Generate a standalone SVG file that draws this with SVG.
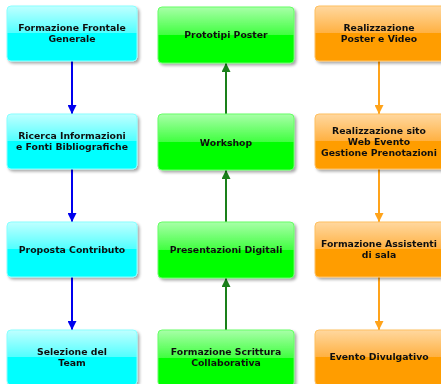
<svg xmlns="http://www.w3.org/2000/svg" width="441" height="384" viewBox="0 0 441 384">
  <defs>
    <linearGradient id="gCyan" x1="0" y1="0" x2="0" y2="1">
      <stop offset="0" stop-color="#c0ffff"/>
      <stop offset="0.5" stop-color="#50ffff"/>
      <stop offset="0.5" stop-color="#00ffff"/>
      <stop offset="1" stop-color="#00ffff"/>
    </linearGradient>
    <linearGradient id="gGreen" x1="0" y1="0" x2="0" y2="1">
      <stop offset="0" stop-color="#a8ffa8"/>
      <stop offset="0.5" stop-color="#40ff40"/>
      <stop offset="0.5" stop-color="#00ff00"/>
      <stop offset="1" stop-color="#00ff00"/>
    </linearGradient>
    <linearGradient id="gOrange" x1="0" y1="0" x2="0" y2="1">
      <stop offset="0" stop-color="#ffd8a0"/>
      <stop offset="0.5" stop-color="#ffb040"/>
      <stop offset="0.5" stop-color="#ff9d00"/>
      <stop offset="1" stop-color="#ff9d00"/>
    </linearGradient>
    <filter id="shadow" x="-10%" y="-10%" width="125%" height="130%">
      <feGaussianBlur in="SourceAlpha" stdDeviation="1.5"/>
      <feOffset dx="2" dy="2" result="b"/>
      <feComponentTransfer><feFuncA type="linear" slope="0.35"/></feComponentTransfer>
      <feMerge><feMergeNode/><feMergeNode in="SourceGraphic"/></feMerge>
    </filter>
    <marker id="aBlue" viewBox="0 0 10 10" refX="10" refY="5" markerWidth="5" markerHeight="4.5" orient="auto" markerUnits="strokeWidth">
      <path d="M0,0 L10,5 L0,10 z" fill="#0000ee"/>
    </marker>
    <marker id="aGreen" viewBox="0 0 10 10" refX="10" refY="5" markerWidth="5" markerHeight="4.5" orient="auto" markerUnits="strokeWidth">
      <path d="M0,0 L10,5 L0,10 z" fill="#1a801a"/>
    </marker>
    <marker id="aOrange" viewBox="0 0 10 10" refX="10" refY="5" markerWidth="5" markerHeight="4.5" orient="auto" markerUnits="strokeWidth">
      <path d="M0,0 L10,5 L0,10 z" fill="#ffa31a"/>
    </marker>
  </defs>
  <style>
    .box { filter: url(#shadow); }
    .cyan { fill: url(#gCyan); stroke: #8ff; stroke-width: 1; }
    .green { fill: url(#gGreen); stroke: #6f6; stroke-width: 1; }
    .orange { fill: url(#gOrange); stroke: #ffc060; stroke-width: 1; }
    text { font-family: "DejaVu Sans", sans-serif; font-weight: bold; font-size: 9.3px; fill: #111; text-anchor: middle; }
    .link { fill: none; stroke-width: 2; }
  </style>

  <rect width="441" height="384" fill="#ffffff"/>

  <!-- connectors -->
  <g id="connectors">
    <line class="link" x1="72" y1="61" x2="72" y2="114" stroke="#0000ee" marker-end="url(#aBlue)"/>
    <line class="link" x1="72" y1="169" x2="72" y2="222" stroke="#0000ee" marker-end="url(#aBlue)"/>
    <line class="link" x1="72" y1="277" x2="72" y2="330" stroke="#0000ee" marker-end="url(#aBlue)"/>

    <line class="link" x1="226" y1="330" x2="226" y2="278" stroke="#1a801a" marker-end="url(#aGreen)"/>
    <line class="link" x1="226" y1="222" x2="226" y2="170" stroke="#1a801a" marker-end="url(#aGreen)"/>
    <line class="link" x1="226" y1="114" x2="226" y2="63" stroke="#1a801a" marker-end="url(#aGreen)"/>

    <line class="link" x1="379" y1="61" x2="379" y2="114" stroke="#ffa31a" marker-end="url(#aOrange)"/>
    <line class="link" x1="379" y1="169" x2="379" y2="222" stroke="#ffa31a" marker-end="url(#aOrange)"/>
    <line class="link" x1="379" y1="277" x2="379" y2="330" stroke="#ffa31a" marker-end="url(#aOrange)"/>
  </g>

  <!-- column 1 -->
  <g id="formazione-frontale" class="box">
    <rect class="cyan" x="7" y="6" width="130" height="55" rx="4"/>
    <text x="72" y="31">Formazione Frontale</text>
    <text x="72" y="42">Generale</text>
  </g>
  <g id="ricerca-informazioni" class="box">
    <rect class="cyan" x="7" y="114" width="130" height="55" rx="4"/>
    <text x="72" y="139">Ricerca Informazioni</text>
    <text x="72" y="150">e Fonti Bibliografiche</text>
  </g>
  <g id="proposta-contributo" class="box">
    <rect class="cyan" x="7" y="222" width="130" height="55" rx="4"/>
    <text x="72" y="253">Proposta Contributo</text>
  </g>
  <g id="selezione-team" class="box">
    <rect class="cyan" x="7" y="330" width="130" height="55" rx="4"/>
    <text x="72" y="355">Selezione del</text>
    <text x="72" y="366">Team</text>
  </g>

  <!-- column 2 -->
  <g id="prototipi-poster" class="box">
    <rect class="green" x="158" y="7" width="136" height="56" rx="4"/>
    <text x="226" y="38">Prototipi Poster</text>
  </g>
  <g id="workshop" class="box">
    <rect class="green" x="158" y="114" width="136" height="56" rx="4"/>
    <text x="226" y="146">Workshop</text>
  </g>
  <g id="presentazioni-digitali" class="box">
    <rect class="green" x="158" y="222" width="136" height="56" rx="4"/>
    <text x="226" y="253">Presentazioni Digitali</text>
  </g>
  <g id="formazione-scrittura" class="box">
    <rect class="green" x="158" y="330" width="136" height="56" rx="4"/>
    <text x="226" y="355">Formazione Scrittura</text>
    <text x="226" y="366">Collaborativa</text>
  </g>

  <!-- column 3 -->
  <g id="realizzazione-poster" class="box">
    <rect class="orange" x="315" y="6" width="130" height="55" rx="4"/>
    <text x="379" y="31">Realizzazione</text>
    <text x="379" y="42">Poster e Video</text>
  </g>
  <g id="realizzazione-sito" class="box">
    <rect class="orange" x="315" y="114" width="130" height="55" rx="4"/>
    <text x="379" y="134">Realizzazione sito</text>
    <text x="379" y="145">Web Evento</text>
    <text x="379" y="156">Gestione Prenotazioni</text>
  </g>
  <g id="formazione-assistenti" class="box">
    <rect class="orange" x="315" y="222" width="130" height="55" rx="4"/>
    <text x="379" y="247">Formazione Assistenti</text>
    <text x="379" y="258">di sala</text>
  </g>
  <g id="evento-divulgativo" class="box">
    <rect class="orange" x="315" y="330" width="130" height="55" rx="4"/>
    <text x="379" y="360">Evento Divulgativo</text>
  </g>
</svg>
